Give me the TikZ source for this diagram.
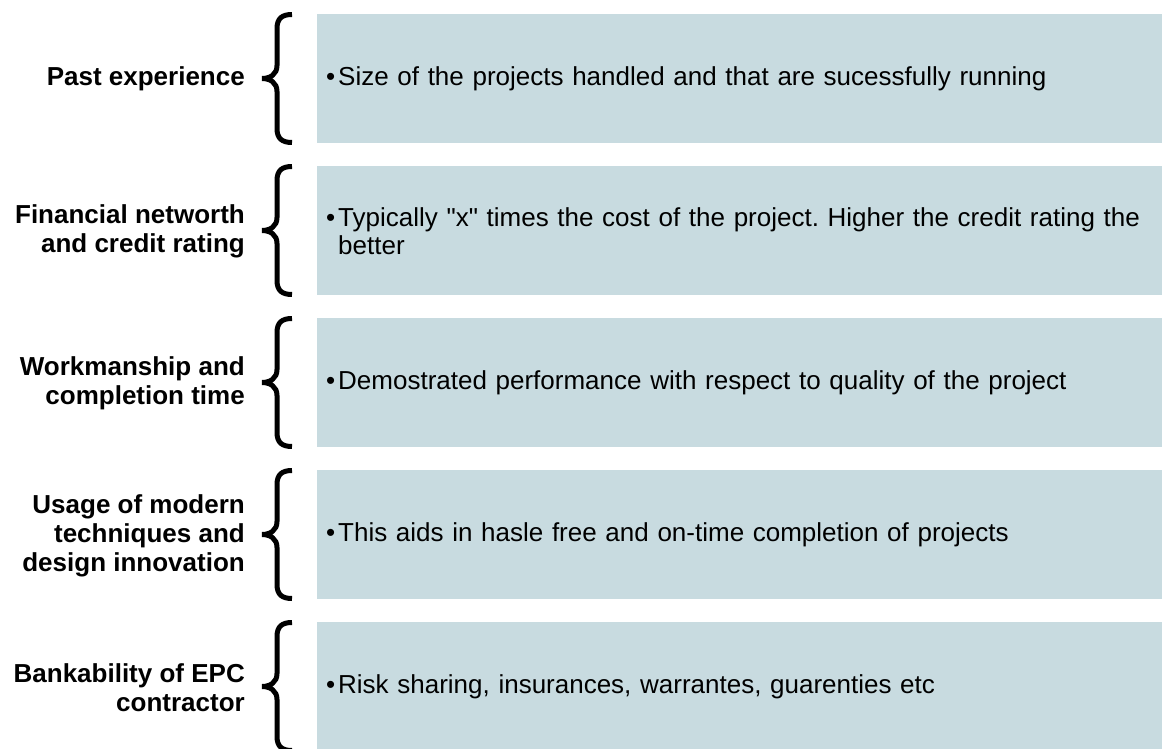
\documentclass[tikz,border=0pt]{standalone}
\usepackage{fontspec}
\setmainfont{Liberation Sans}
\newfontfamily\plainsans{Liberation Sans}
\definecolor{boxfill}{RGB}{200,219,224}
\tikzset{
  panel/.style={fill=boxfill, draw=none, anchor=north west, minimum width=845pt, minimum height=129pt, inner sep=0pt},
  bodytext/.style={anchor=west, text width=815pt, align=left, inner sep=0pt, font=\fontsize{26pt}{28pt}\selectfont\frenchspacing},
  labeltext/.style={anchor=east, align=right, inner sep=0pt, font=\fontsize{26pt}{29pt}\selectfont\bfseries},
  curly/.pic={\draw[line width=5pt] (30,-64) .. controls (20,-64) and (15,-60) .. (15,-50) -- (15,-13) .. controls (15,-4) and (8,0) .. (0,0) .. controls (8,0) and (15,4) .. (15,13) -- (15,50) .. controls (15,60) and (20,64) .. (30,64);}
}
\newcommand{\blt}{\makebox[0pt][r]{\textbullet\hspace{3pt}}}
\newcommand{\dq}{{\plainsans"}}
\begin{document}
\begin{tikzpicture}[x=1pt,y=-1pt]
\useasboundingbox (0,0) rectangle (1162,749);
% panels
\node[panel] (p1) at (317,14) {};
\node[panel] (p2) at (317,166) {};
\node[panel] (p3) at (317,318) {};
\node[panel] (p4) at (317,470) {};
\node[panel] (p5) at (317,622) {};
% body texts
\node[bodytext] (t1) at (338,78.5) {\blt Size of the projects handled and that are sucessfully running};
\node[bodytext] (t2) at (338,231) {\blt Typically \dq x\dq{} times the cost of the project. Higher the credit rating the better};
\node[bodytext] (t3) at (338,382.5) {\blt Demostrated performance with respect to quality of the project};
\node[bodytext] (t4) at (338,534.5) {\blt This aids in hasle free and on-time completion of projects};
\node[bodytext] (t5) at (338,686.5) {\blt Risk sharing, insurances, warrantes, guarenties etc};
% braces
\pic at (262,78.5) {curly};
\pic at (262,230.5) {curly};
\pic at (262,382.5) {curly};
\pic at (262,534.5) {curly};
\pic at (262,686.5) {curly};
% labels
\node[labeltext] (l1) at (245,78.5) {Past experience};
\node[labeltext] (l2) at (245,231.5) {Financial networth\\and credit rating};
\node[labeltext] (l3) at (245,383.5) {Workmanship and\\completion time};
\node[labeltext] (l4) at (245,535.5) {Usage of modern\\techniques and\\design innovation};
\node[labeltext] (l5) at (245,687.5) {Bankability of EPC\\contractor};
\end{tikzpicture}
\end{document}
